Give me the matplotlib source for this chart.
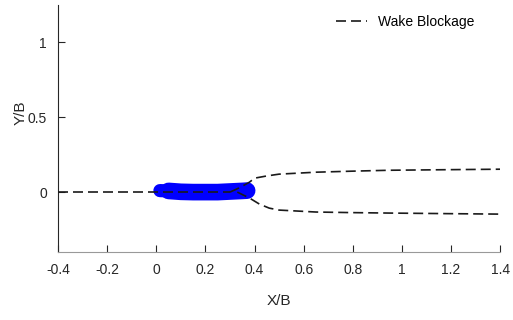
import matplotlib
matplotlib.use("Agg")
import matplotlib.pyplot as plt

plt.rcParams['font.family'] = ['Liberation Sans', 'DejaVu Sans']

# centre line of the wake, ahead of and along the plate
center_x = [-0.4, 0.0, 0.2, 0.3]
center_y = [0.0, 0.0, 0.0, 0.0]

# upper and lower wake boundaries
upper_x = [0.3, 0.34, 0.38, 0.40, 0.45, 0.50, 0.65, 0.80, 0.95, 1.2, 1.4]
upper_y = [0.0, 0.03, 0.067, 0.093, 0.108, 0.12, 0.133, 0.140, 0.146, 0.150, 0.153]
lower_x = [0.33, 0.38, 0.42, 0.46, 0.50, 0.65, 0.80, 0.95, 1.2, 1.4]
lower_y = [0.0, -0.04, -0.08, -0.107, -0.12, -0.133, -0.137, -0.140, -0.144, -0.147]

# plate (thick blue body)
plate_x = [0.015, 0.05, 0.10, 0.15, 0.20, 0.25, 0.30, 0.35, 0.37]
plate_y = [0.01, 0.008, 0.002, 0.0, 0.0, 0.0, 0.004, 0.008, 0.01]

fig = plt.figure(figsize=(5.13, 3.20), dpi=100)
ax = fig.add_axes([0.113, 0.2125, 0.862, 0.772])

ax.plot(plate_x[:3], plate_y[:3], color='#0000ff', lw=9.5,
        solid_capstyle='round', zorder=2)
ax.plot(plate_x[1:], plate_y[1:], color='#0000ff', lw=12,
        solid_capstyle='round', zorder=2)

dash = dict(color='#1a1a1a', lw=1.2, dashes=(6, 3), zorder=3)
ax.plot(center_x, center_y, label='Wake Blockage', **dash)
ax.plot(upper_x, upper_y, **dash)
ax.plot(lower_x, lower_y, **dash)

ax.set_xlim(-0.4, 1.4)
ax.set_ylim(-0.4, 1.25)
ax.set_xticks([-0.4, -0.2, 0, 0.2, 0.4, 0.6, 0.8, 1, 1.2, 1.4])
ax.set_xticklabels(['-0.4', '-0.2', '0', '0.2', '0.4', '0.6', '0.8', '1', '1.2', '1.4'])
ax.set_yticks([0, 0.5, 1])
ax.set_yticklabels(['0', '0.5', '1'])

ax.spines['top'].set_visible(False)
ax.spines['right'].set_visible(False)
ax.spines['left'].set_color('#262626')
ax.spines['bottom'].set_color('#999999')
ax.tick_params(direction='in', length=5, width=0.8, colors='#262626',
               labelsize=10, pad=8)

ax.set_xlabel('X/B', fontsize=11, color='#262626', labelpad=12)
ax.set_ylabel('Y/B', fontsize=11, color='#262626')
ax.yaxis.set_label_coords(-0.068, 0.563)

ax.legend(loc='upper right', frameon=False, fontsize=10, handlelength=2.2,
          bbox_to_anchor=(0.97, 1.01))

fig.savefig('out.png', dpi=100)
